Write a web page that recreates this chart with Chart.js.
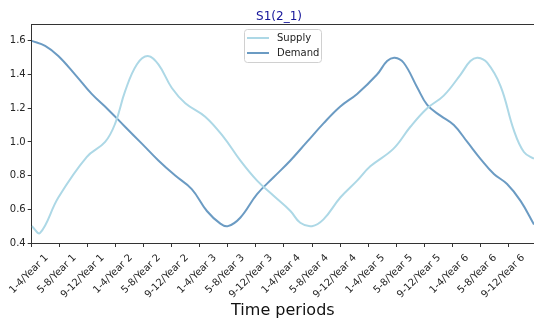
<!DOCTYPE html>
<html>
<head>
<meta charset="utf-8">
<script src="https://cdn.jsdelivr.net/npm/chart.js@4"></script>
<style>
  body { margin: 0; background: #fff; }
  #wrap { width: 534px; height: 323px; }
</style>
</head>
<body>
<div id="wrap"><canvas id="chart" width="534" height="323"></canvas></div>
<script>
// periods on the x axis (one tick per four-month block)
const periods = [
  "1-4/Year 1", "5-8/Year 1", "9-12/Year 1",
  "1-4/Year 2", "5-8/Year 2", "9-12/Year 2",
  "1-4/Year 3", "5-8/Year 3", "9-12/Year 3",
  "1-4/Year 4", "5-8/Year 4", "9-12/Year 4",
  "1-4/Year 5", "5-8/Year 5", "9-12/Year 5",
  "1-4/Year 6", "5-8/Year 6", "9-12/Year 6"
];
const yTicks = [0.4, 0.6, 0.8, 1.0, 1.2, 1.4, 1.6];

// smoothed supply curve, x measured in periods
const supplyT = [0.00, 0.30, 0.95, 1.96, 2.62, 2.98, 3.33, 3.75, 4.14, 4.52, 5.00, 5.48,
  6.19, 6.84, 7.44, 8.04, 8.63, 9.23, 9.58, 10.00, 10.41, 11.01, 11.61, 12.08,
  12.91, 13.51, 14.11, 14.70, 15.30, 15.65, 15.91, 16.25, 16.73, 17.20, 17.56, 17.92];
const supplyV = [0.50, 0.46, 0.67, 0.91, 1.00, 1.11, 1.30, 1.46, 1.51, 1.46, 1.32, 1.23,
  1.15, 1.03, 0.89, 0.77, 0.68, 0.59, 0.52, 0.50, 0.54, 0.67, 0.77, 0.855,
  0.96, 1.09, 1.20, 1.275, 1.40, 1.48, 1.50, 1.47, 1.33, 1.07, 0.94, 0.90];

// smoothed demand curve
const demandT = [0.00, 0.48, 0.95, 1.55, 2.14, 2.74, 3.33, 3.93, 4.52, 5.12, 5.71, 6.25,
  6.73, 7.00, 7.44, 8.04, 8.63, 9.23, 9.82, 10.41, 11.01, 11.61, 12.32, 12.68,
  12.95, 13.27, 13.75, 14.11, 14.58, 15.06, 15.54, 16.01, 16.49, 16.96, 17.44, 17.92];
const demandV = [1.60, 1.57, 1.51, 1.40, 1.285, 1.19, 1.09, 0.99, 0.89, 0.80, 0.72, 0.59,
  0.515, 0.50, 0.55, 0.69, 0.79, 0.89, 1.00, 1.11, 1.21, 1.285, 1.40, 1.48,
  1.50, 1.47, 1.325, 1.22, 1.156, 1.10, 1.00, 0.90, 0.81, 0.75, 0.65, 0.51];

const toPoints = (xs, ys) => xs.map((x, i) => ({ x, y: ys[i] }));

const FONT = "'DejaVu Sans', sans-serif";
const AXIS = "#333";

// title, top spine and the boxed legend in the upper middle of the plot
const decorations = {
  id: "decorations",
  afterDraw(chart) {
    const { ctx, chartArea } = chart;
    ctx.save();
    ctx.strokeStyle = AXIS;
    ctx.lineWidth = 1;
    ctx.beginPath();
    ctx.moveTo(chartArea.left, chartArea.top + 0.5);
    ctx.lineTo(chartArea.right, chartArea.top + 0.5);
    ctx.stroke();

    ctx.fillStyle = "#14149a";
    ctx.font = "12px " + FONT;
    ctx.textAlign = "center";
    ctx.textBaseline = "alphabetic";
    ctx.fillText("S1(2_1)", 279, 20);

    ctx.fillStyle = "rgba(255,255,255,0.8)";
    ctx.strokeStyle = "#d0d0d0";
    ctx.beginPath();
    ctx.roundRect(244.5, 29.5, 77, 33, 3);
    ctx.fill();
    ctx.stroke();

    ctx.font = "10px " + FONT;
    ctx.textAlign = "left";
    ctx.textBaseline = "middle";
    chart.data.datasets.forEach((ds, i) => {
      const y = 38 + i * 15;
      ctx.strokeStyle = ds.borderColor;
      ctx.lineWidth = ds.borderWidth;
      ctx.beginPath();
      ctx.moveTo(247, y);
      ctx.lineTo(269, y);
      ctx.stroke();
      ctx.fillStyle = "#222";
      ctx.fillText(ds.label, 277, y);
    });
    ctx.restore();
  }
};

new Chart(document.getElementById("chart"), {
  type: "line",
  data: {
    datasets: [
      { label: "Supply", data: toPoints(supplyT, supplyV), borderColor: "lightblue", borderWidth: 2 },
      { label: "Demand", data: toPoints(demandT, demandV), borderColor: "rgba(70,130,180,0.8)", borderWidth: 2 }
    ]
  },
  options: {
    responsive: false,
    animation: false,
    devicePixelRatio: 1,
    layout: { padding: { top: 24, left: 0, right: 0, bottom: 0 } },
    elements: { point: { radius: 0 }, line: { tension: 0.4 } },
    plugins: { legend: { display: false }, tooltip: { enabled: false } },
    scales: {
      x: {
        type: "linear",
        min: 0,
        max: 17.92,
        afterBuildTicks: s => { s.ticks = periods.map((_, i) => ({ value: i })); },
        afterFit: s => { s.height = 80; s.paddingLeft = 0; s.paddingRight = 0; },
        ticks: {
          callback: v => periods[v],
          minRotation: 45,
          maxRotation: 45,
          padding: 5,
          labelOffset: 15,
          color: "#262626",
          font: { family: FONT, size: 10 }
        },
        grid: { drawOnChartArea: false, tickLength: 4, color: AXIS },
        border: { display: true, color: AXIS },
        title: {
          display: true,
          text: "Time periods",
          color: "#111",
          font: { family: FONT, size: 16 },
          padding: { top: 0, bottom: 3 }
        }
      },
      y: {
        min: 0.4,
        max: 1.7,
        afterBuildTicks: s => { s.ticks = yTicks.map(v => ({ value: v })); },
        afterFit: s => { s.width = 31.7; s.paddingTop = 0; s.paddingBottom = 0; },
        ticks: {
          callback: v => v.toFixed(1),
          padding: 2,
          color: "#262626",
          font: { family: FONT, size: 10 }
        },
        grid: { drawOnChartArea: false, tickLength: 4, color: AXIS },
        border: { display: true, color: AXIS }
      }
    }
  },
  plugins: [decorations]
});
</script>
</body>
</html>
